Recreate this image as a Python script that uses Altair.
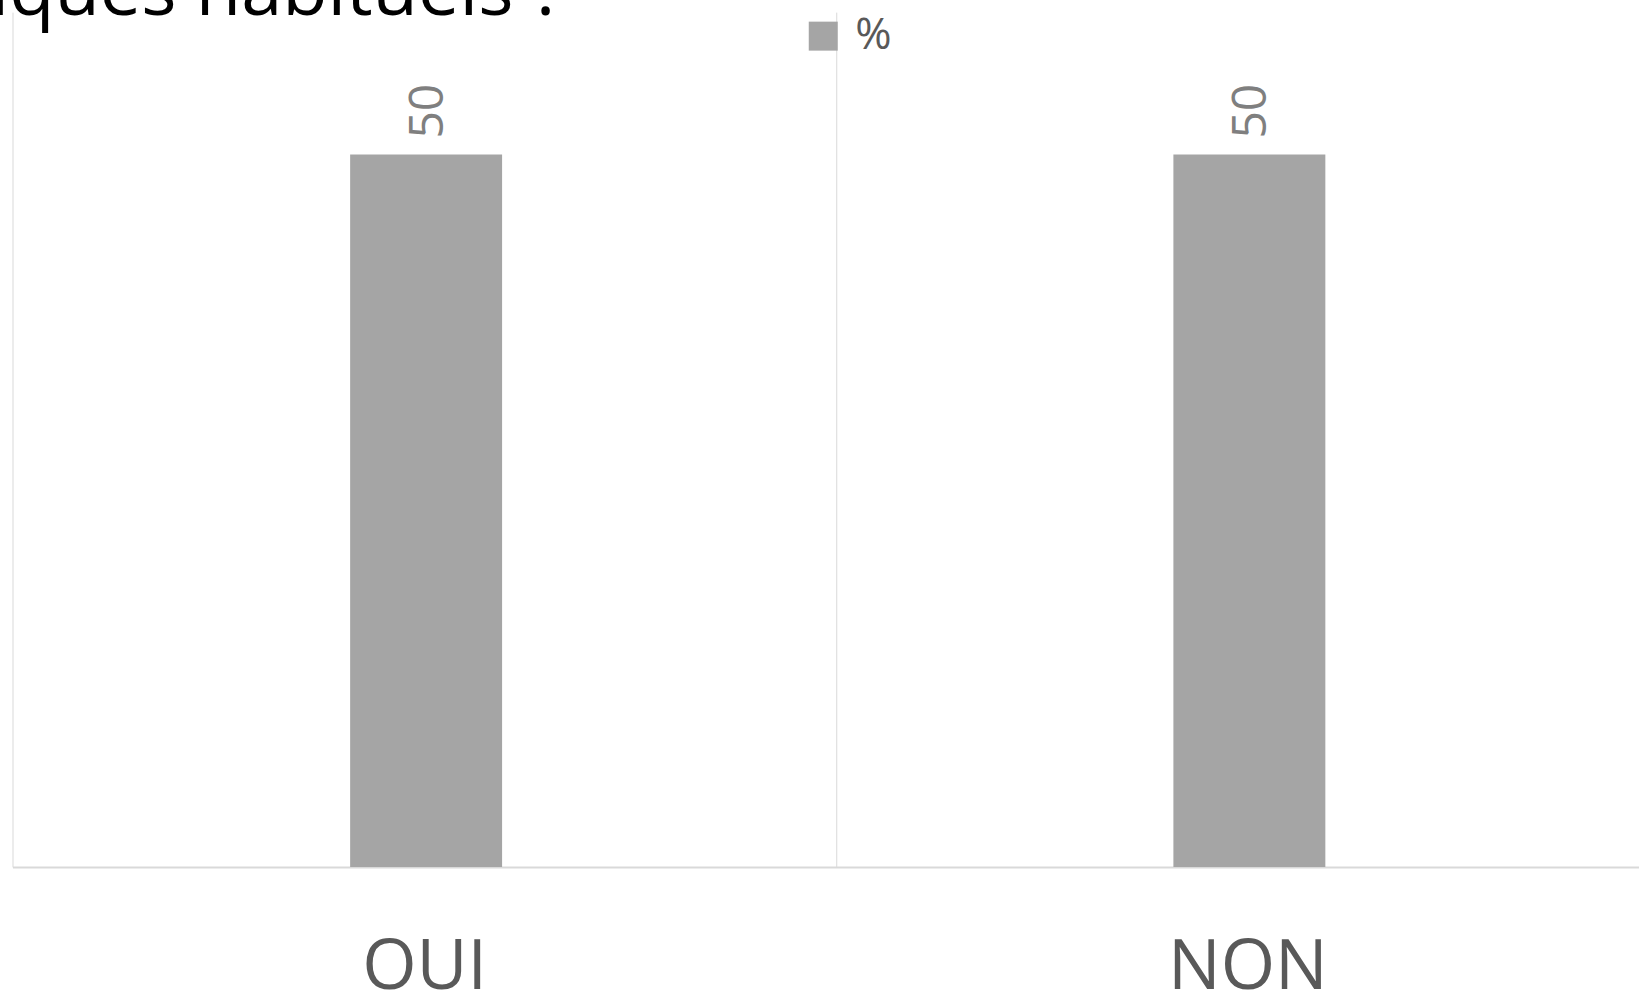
import altair as alt
import pandas as pd

categories = ["OUI", "NON"]
values = [50, 50]
series_name = ["%", "%"]
title_text = ["iques habituels ?"]

df = pd.DataFrame({"reponse": categories, "valeur": values, "serie": series_name})
df_title = pd.DataFrame({"titre": title_text})

FONT = "Open Sans"

x_enc = alt.X(
    "reponse:N",
    sort=categories,
    scale=alt.Scale(range=[0, 1647], paddingInner=0, paddingOuter=0),
    axis=alt.Axis(
        title=None,
        labelAngle=0,
        labelFont=FONT,
        labelFontSize=70,
        labelColor="#595959",
        labelPadding=67,
        ticks=False,
        tickBand="extent",
        grid=True,
        gridColor="#d9d9d9",
        gridWidth=1,
        domainColor="#d9d9d9",
        domainWidth=2,
    ),
)

y_enc = alt.Y("valeur:Q", scale=alt.Scale(domain=[0, 60], nice=False, zero=True), axis=None)

bars = alt.Chart(df).mark_bar(size=152, xOffset=2).encode(
    x=x_enc,
    y=y_enc,
    color=alt.Color(
        "serie:N",
        scale=alt.Scale(range=["#a5a5a5"]),
        legend=alt.Legend(
            title=None,
            orient="none",
            legendX=789,
            legendY=2,
            symbolType="square",
            symbolSize=841,
            symbolStrokeWidth=0,
            symbolOpacity=1,
            labelFont=FONT,
            labelFontSize=44,
            labelColor="#595959",
            labelOffset=10,
        ),
    ),
)

labels = alt.Chart(df).mark_text(
    angle=270, align="left", baseline="middle", dx=16, dy=5, fontSize=48, color="#7f7f7f", font=FONT
).encode(x=alt.X("reponse:N", sort=categories), y="valeur:Q", text="valeur:Q")

title_mark = alt.Chart(df_title).mark_text(
    align="left", baseline="alphabetic", fontSize=74, font=FONT, color="#000000"
).encode(text="titre:N", x=alt.value(-22), y=alt.value(3))

chart = (
    alt.layer(bars, labels, title_mark)
    .properties(
        width=1627,
        height=855,
        autosize=alt.AutoSizeParams(type="none"),
        padding={"left": 12.5, "top": 12, "right": 0, "bottom": 128},
    )
    .configure(background="white")
    .configure_view(stroke=None)
)

chart.save("out.html", embed_options={"renderer": "svg", "actions": False})
